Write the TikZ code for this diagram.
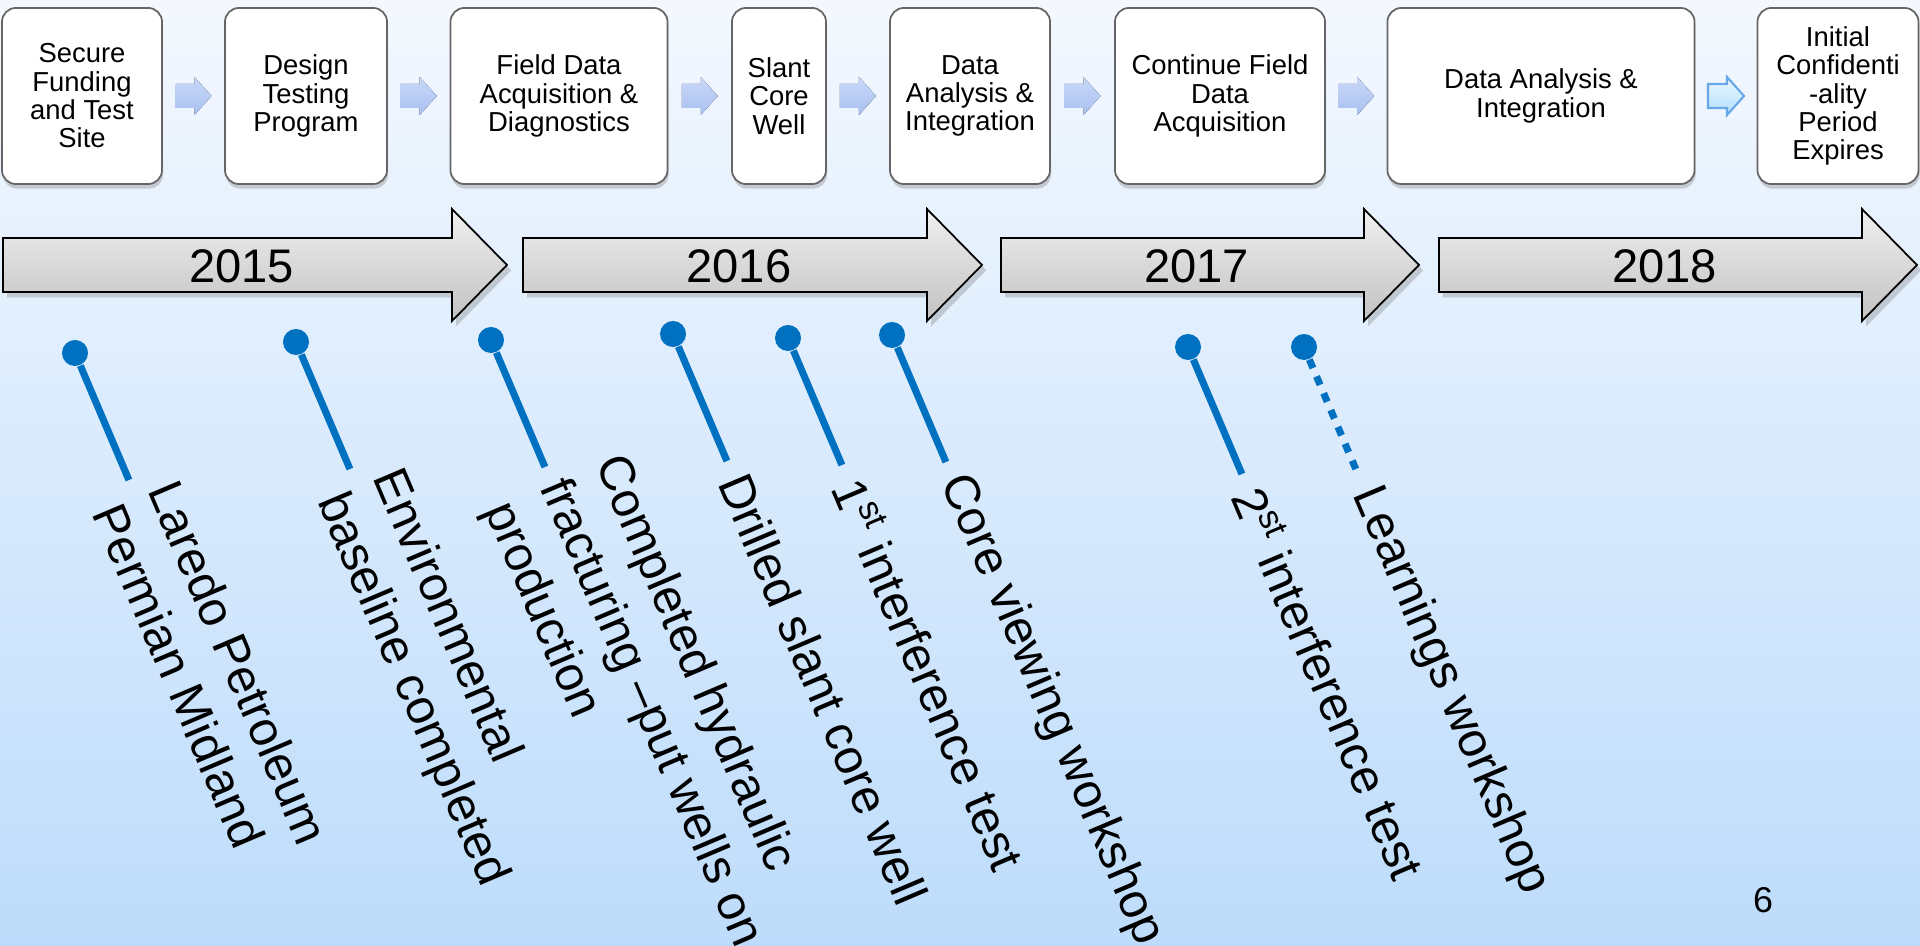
\documentclass[tikz,border=0pt]{standalone}
\usepackage{fontspec}
\setmainfont{Liberation Sans}
\usetikzlibrary{shadows, calc}

\definecolor{pinblue}{RGB}{0,112,192}
\definecolor{bgtop}{RGB}{244,248,254}
\definecolor{bgbot}{RGB}{189,220,251}
\definecolor{chevtop}{RGB}{202,216,249}
\definecolor{chevbot}{RGB}{168,192,240}
\definecolor{lasttop}{RGB}{236,248,255}
\definecolor{lastbot}{RGB}{178,222,250}
\definecolor{lastline}{RGB}{104,168,232}

\tikzset{
    stage/.style={draw=black!60, line width=0.5pt, fill=white, rounded corners=0.14cm,
        minimum height=1.76cm, inner sep=0pt, align=center,
        font=\fontsize{7.8}{8.05}\selectfont,
        drop shadow={shadow xshift=0.3pt, shadow yshift=-1.3pt, opacity=0.35}},
    chev/.style={top color=chevtop, bottom color=chevbot},
    yeararrow/.style={draw=black, line width=0.5pt, top color=black!6, bottom color=black!24,
        drop shadow={shadow xshift=1.2pt, shadow yshift=-1.5pt, opacity=0.35}},
    yeartext/.style={font=\fontsize{13.4}{16}\selectfont, inner sep=0pt},
    dot/.style={circle, fill=pinblue, inner sep=0pt, minimum size=0.26cm},
    stem/.style={draw=pinblue, line width=2pt},
    stemdot/.style={stem, dash pattern=on 2.6pt off 2.6pt},
    evt/.style={rotate=-67, anchor=west, align=left, inner sep=0pt,
        font=\fontsize{13.9}{17.1}\selectfont}
}

\begin{document}
\begin{tikzpicture}[x=0.01cm, y=-0.01cm]
    \useasboundingbox (0,0) rectangle (1920,946);
    \shade[top color=bgtop, bottom color=bgbot] (0,0) rectangle (1920,946);

    % project stages
    \node[stage, minimum width=1.60cm] (b1) at (82,96)   {Secure\\Funding\\and Test\\Site};
    \node[stage, minimum width=1.62cm] (b2) at (306,96)  {Design\\Testing\\Program};
    \node[stage, minimum width=2.17cm] (b3) at (559,96)  {Field Data\\Acquisition \&\\Diagnostics};
    \node[stage, minimum width=0.94cm] (b4) at (779,96)  {Slant\\Core\\Well};
    \node[stage, minimum width=1.60cm] (b5) at (970,96)  {Data\\Analysis \&\\Integration};
    \node[stage, minimum width=2.10cm] (b6) at (1220,96) {Continue Field\\Data\\Acquisition};
    \node[stage, minimum width=3.07cm] (b7) at (1541,96) {Data Analysis \&\\Integration};
    \node[stage, minimum width=1.61cm] (b8) at (1838,96) {Initial\\Confidenti\\-ality\\Period\\Expires};

    % small arrows between the stages
    \foreach \a/\b [count=\i] in {b1/b2, b2/b3, b3/b4, b4/b5, b5/b6, b6/b7} {
        \path ($(\a.east)!0.5!(\b.west)$) coordinate (c\i);
        \fill[chev] (c\i) ++(-18,-12) -- ++(19,0) -- ++(0,-7) -- ++(17,19)
            -- ++(-17,19) -- ++(0,-7) -- ++(-19,0) -- cycle;
    }
    \path ($(b7.east)!0.5!(b8.west)$) coordinate (c7);
    \draw[lastline, line width=0.6pt, top color=lasttop, bottom color=lastbot]
        (c7) ++(-18,-12) -- ++(19,0) -- ++(0,-7) -- ++(17,19)
        -- ++(-17,19) -- ++(0,-7) -- ++(-19,0) -- cycle;

    % years
    \foreach \xa/\xb/\yr in {3/452/2015, 523/927/2016, 1001/1364/2017, 1439/1862/2018} {
        \draw[yeararrow] (\xa,238) -- (\xb,238) -- (\xb,209) -- (\xb+55,265)
            -- (\xb,321) -- (\xb,292) -- (\xa,292) -- cycle;
        \node[yeartext] (y\yr) at ({(\xa+\xb)/2+14},266) {\yr};
    }

    % milestones
    \foreach \px/\py/\txt/\ln [count=\i] in {
        75/353/{Laredo Petroleum\\Permian Midland}/stem,
        296/342/{Environmental\\baseline completed}/stem,
        491/340/{Completed hydraulic\\fracturing --put wells on\\production}/stem,
        673/334/{Drilled slant core well}/stem,
        788/338/{1\textsuperscript{st} interference test}/stem,
        892/335/{Core viewing workshop}/stem,
        1188/347/{2\textsuperscript{st} interference test}/stem,
        1304/347/{Learnings workshop}/stemdot} {
        \node[dot] (d\i) at (\px,\py) {};
        \path (d\i.center) ++(67:138) coordinate (e\i) ++(67:16) node[evt] (t\i) {\txt};
        \draw[\ln] (d\i) -- (e\i);
    }

    \node[font=\fontsize{10.2}{12}\selectfont] (pg) at (1763,900) {6};
\end{tikzpicture}
\end{document}
